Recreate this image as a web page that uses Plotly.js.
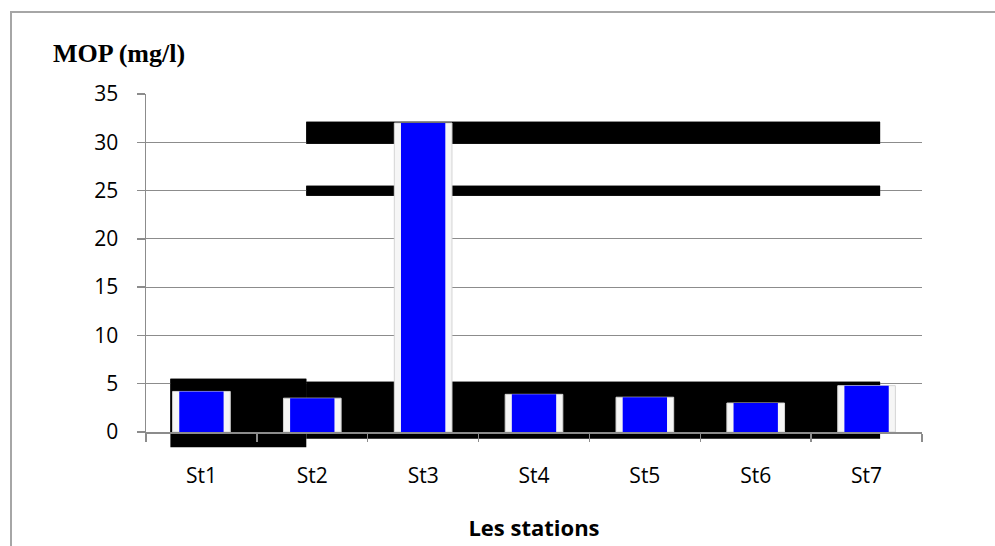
<!DOCTYPE html>
<html>
<head>
<meta charset="utf-8">
<script src="https://cdn.plot.ly/plotly-3.0.1.min.js"></script>
<style>
  html, body { margin: 0; padding: 0; background: #ffffff; }
  #wrap { position: relative; width: 995px; height: 546px; overflow: hidden; }
  #chart { position: absolute; left: 0; top: 0; width: 995px; height: 546px; }
  #frame {
    position: absolute; left: 10px; top: 11px; width: 1100px; height: 700px;
    border-left: 2px solid #a6a6a6; border-top: 2px solid #a6a6a6;
    pointer-events: none;
  }
</style>
</head>
<body>
<div id="wrap">
  <div id="chart"></div>
  <div id="frame"></div>
</div>
<script>
// Particulate organic matter per sampling station
const stations = ['St1', 'St2', 'St3', 'St4', 'St5', 'St6', 'St7'];
const mopValues = [4.2, 3.5, 32.0, 3.9, 3.6, 3.0, 4.8];
const yTicks = [0, 5, 10, 15, 20, 25, 30, 35];
const yMax = 35;

// Dark bands printed across the plot area (x in category index, y in mg/l)
const darkBands = [
  { x0: 0.946, x1: 6.122, y0: 29.85, y1: 32.13 },
  { x0: 0.946, x1: 6.122, y0: 24.47, y1: 25.50 },
  { x0: -0.28, x1: 0.946, y0: -1.59, y1: 5.52 },
  { x0: 0.946, x1: 6.122, y0: -0.69, y1: 5.21 }
];

const axisGray = '#8c8c8c';
const tickFont = { family: 'Open Sans, sans-serif', size: 21, color: '#000000' };

// Each band is drawn twice: above the gridlines inside the plot area,
// and unclipped underneath so the part below the axis still shows.
const shapes = [];
darkBands.forEach(b => {
  shapes.push({
    type: 'rect', xref: 'x', yref: 'y',
    x0: b.x0, x1: b.x1, y0: b.y0, y1: b.y1,
    fillcolor: '#000000', line: { width: 0 }, layer: 'between'
  });
  shapes.push({
    type: 'rect', xref: 'x', yref: 'y domain',
    x0: b.x0, x1: b.x1, y0: b.y0 / yMax, y1: b.y1 / yMax,
    fillcolor: '#000000', line: { width: 0 }, layer: 'below'
  });
});

// Light bevel frame behind each bar, blue face in front
const frameTrace = {
  type: 'bar',
  x: stations,
  y: mopValues,
  width: 0.52,
  marker: { color: '#f6f6f6', line: { color: '#d4d4d4', width: 1 } },
  hoverinfo: 'skip'
};

const barTrace = {
  type: 'bar',
  x: stations,
  y: mopValues,
  width: 0.40,
  marker: { color: '#0000ff', line: { width: 0 } },
  hoverinfo: 'x+y'
};

const layout = {
  width: 995,
  height: 546,
  margin: { l: 146, r: 73, t: 94, b: 114, pad: 0 },
  paper_bgcolor: '#ffffff',
  plot_bgcolor: '#ffffff',
  showlegend: false,
  barmode: 'overlay',
  title: {
    text: 'MOP (mg/l)',
    font: { family: 'Liberation Serif, Times New Roman, serif', size: 26, color: '#000000', weight: 'bold' },
    xref: 'container', yref: 'container',
    x: 53 / 995, xanchor: 'left',
    y: 1 - 53 / 546, yanchor: 'middle'
  },
  xaxis: {
    type: 'category',
    tickfont: tickFont,
    showline: true,
    linecolor: axisGray,
    linewidth: 1.5,
    ticks: 'outside',
    tickson: 'boundaries',
    ticklen: 8,
    tickcolor: axisGray,
    tickwidth: 1.5,
    ticklabelstandoff: 24,
    showgrid: false,
    zeroline: false,
    title: {
      text: '<b>Les stations</b>',
      font: { family: 'Open Sans, sans-serif', size: 22, color: '#000000' },
      standoff: 33
    }
  },
  yaxis: {
    range: [0, yMax],
    tickvals: yTicks,
    tickfont: tickFont,
    showline: true,
    linecolor: axisGray,
    linewidth: 1.5,
    ticks: 'outside',
    ticklen: 8,
    tickcolor: axisGray,
    tickwidth: 1.5,
    ticklabelstandoff: 14,
    showgrid: true,
    gridcolor: axisGray,
    gridwidth: 1.2,
    zeroline: false
  },
  shapes: shapes
};

Plotly.newPlot('chart', [frameTrace, barTrace], layout, { displayModeBar: false, staticPlot: true });
</script>
</body>
</html>
